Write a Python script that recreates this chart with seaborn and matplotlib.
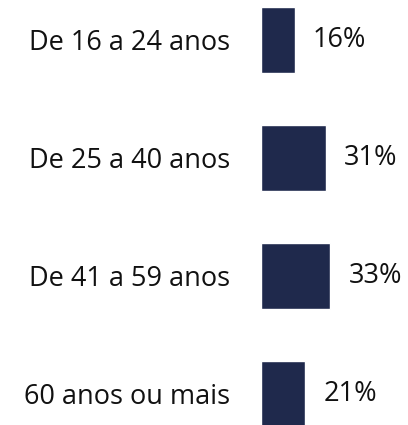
import matplotlib
matplotlib.use("Agg")
import matplotlib.pyplot as plt
import seaborn as sns
import pandas as pd

# Age groups and share of respondents (%)
faixas = ['De 16 a 24 anos', 'De 25 a 40 anos', 'De 41 a 59 anos', '60 anos ou mais']
percentuais = [16, 31, 33, 21]

df = pd.DataFrame({'faixa': faixas, 'pct': percentuais})

sns.set_style('white')
plt.rcParams['font.family'] = ['Open Sans', 'DejaVu Sans']

fig = plt.figure(figsize=(4.08, 4.25), dpi=100)
ax = fig.add_axes([261 / 408, 0, 147 / 408, 1])

sns.barplot(data=df, x='pct', y='faixa', color='#1f294c', width=0.56,
            saturation=1, ax=ax, orient='h')

ax.set_xlim(0, 70)
ax.set_ylim(3.263, -0.339)

for c in ax.containers:
    ax.bar_label(c, labels=[f'{v}%' for v in percentuais], padding=13,
                 fontsize=19.5, color='#111111')

ax.set_xlabel('')
ax.set_ylabel('')
ax.set_xticks([])
ax.tick_params(axis='y', length=0, pad=22, labelsize=19.5, labelcolor='#111111')
sns.despine(ax=ax, left=True, bottom=True)

fig.savefig('out.png', dpi=100)
